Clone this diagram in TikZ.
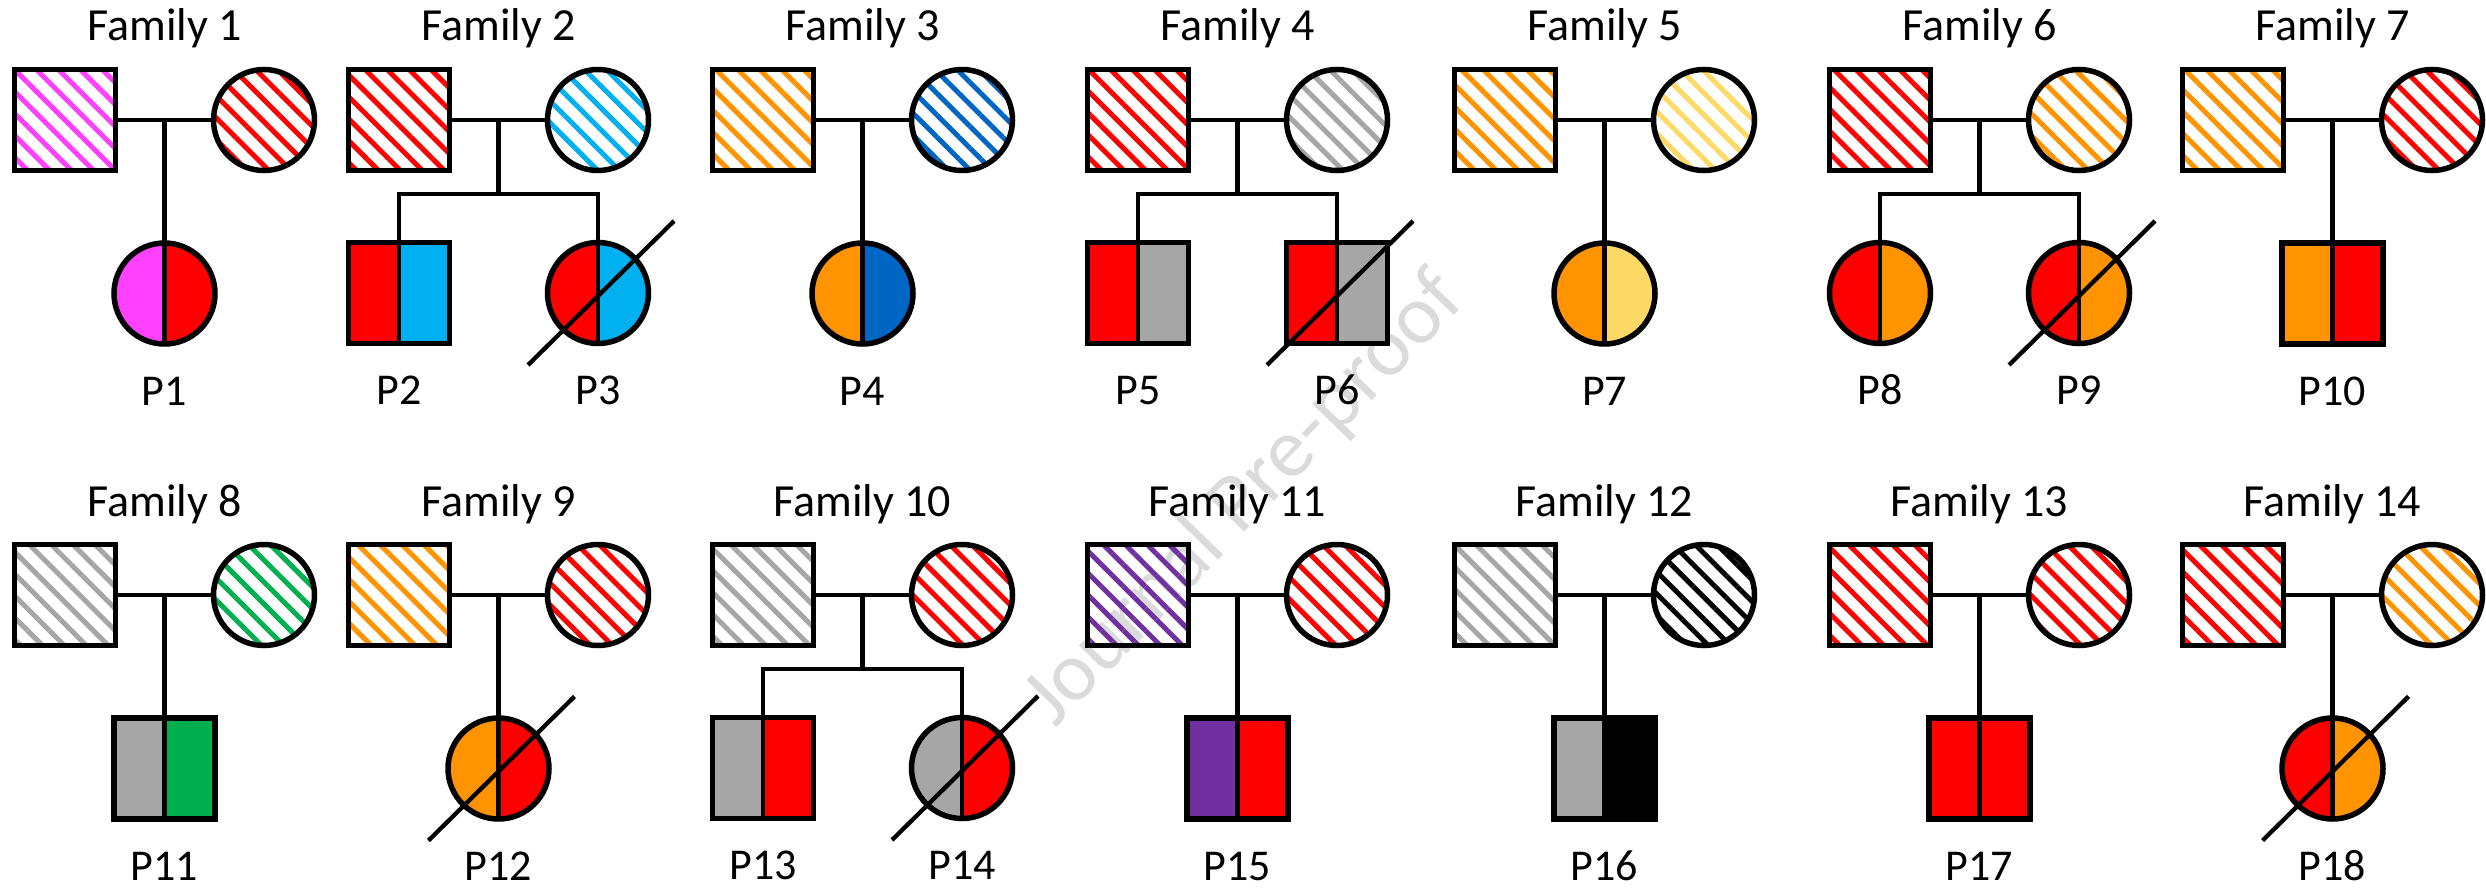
\documentclass[tikz,border=0pt]{standalone}
\usepackage{fontspec}
\setmainfont{Carlito}
\usetikzlibrary{positioning,calc,patterns.meta}
\definecolor{fpink}{HTML}{FF40FF}
\definecolor{fred}{HTML}{FF0000}
\definecolor{fsky}{HTML}{00B0F0}
\definecolor{fblue}{HTML}{0066C4}
\definecolor{forange}{HTML}{FF9300}
\definecolor{fgray}{HTML}{A6A6A6}
\definecolor{fyellow}{HTML}{FFD966}
\definecolor{fgreen}{HTML}{00B050}
\definecolor{fpurple}{HTML}{7030A0}
\definecolor{fblack}{HTML}{000000}

\begin{document}
\begin{tikzpicture}[x=1pt, y=-1pt,
      father/.style={draw, rectangle, minimum size=101pt, line width=5.5pt, outer sep=0pt,
                     pattern={Lines[angle=-45, distance=15.5pt, line width=5pt]}},
      mother/.style={father, circle},
      kid/.style={draw, minimum size=101pt, line width=5.5pt, outer sep=0pt},
      half/.style 2 args={path picture={
          \fill[fill=#1] (path picture bounding box.south west) rectangle (path picture bounding box.north);
          \fill[fill=#2] (path picture bounding box.north) rectangle (path picture bounding box.south east);
          \draw[line width=4.5pt] (path picture bounding box.north) -- (path picture bounding box.south);}},
      lig/.style={line width=4.3pt},
      titulo/.style={font=\fontsize{46}{55}\selectfont, inner sep=0pt, anchor=base},
      rotulo/.style={font=\fontsize{44}{53}\selectfont, inner sep=0pt, anchor=base}
    ]
    \useasboundingbox (0,0) rectangle (2486,888);
    \node[rotate=46, text=black!14, font=\fontsize{84}{90}\selectfont] (marca) at (1245,500) {Journal Pre-proof};

    \foreach \n/\x/\y/\a/\b/\s/\p in {1/65/120/fpink/fred/circle/1, 3/763/120/forange/fblue/circle/4,
        5/1505/120/forange/fyellow/circle/7, 7/2233/120/forange/fred/rectangle/10,
        8/65/595/fgray/fgreen/rectangle/11, 9/399/595/forange/fred/circle/12,
        11/1138/595/fpurple/fred/rectangle/15, 12/1505/595/fgray/fblack/rectangle/16,
        13/1880/595/fred/fred/rectangle/17, 14/2233/595/fred/forange/circle/18} {
      \node[father, pattern color=\a] (f\n) at (\x,\y) {};
      \node[mother, pattern color=\b, right=98pt of f\n] (m\n) {};
      \coordinate (c\n) at ($(f\n.east)!0.5!(m\n.west)$);
      \node[titulo] (t\n) at ([yshift=79pt]c\n) {Family \n};
      \node[kid, shape=\s, half={\a}{\b}, below=123pt of c\n] (p\p) {};
      \node[rotulo] (l\p) at ([yshift=-61pt]p\p.south) {P\p};
      \draw[lig] (f\n) -- (m\n);
      \draw[lig] (c\n) -- (p\p);
    }

    \foreach \n/\x/\y/\a/\b/\s/\p/\t/\q in {2/399/120/fred/fsky/rectangle/2/circle/3,
        4/1138/120/fred/fgray/rectangle/5/rectangle/6, 6/1880/120/fred/forange/circle/8/circle/9,
        10/763/595/fgray/fred/rectangle/13/circle/14} {
      \node[father, pattern color=\a] (f\n) at (\x,\y) {};
      \node[mother, pattern color=\b, right=98pt of f\n] (m\n) {};
      \coordinate (c\n) at ($(f\n.east)!0.5!(m\n.west)$);
      \coordinate (s\n) at ($(c\n)+(0,74)$);
      \node[titulo] (t\n) at ([yshift=79pt]c\n) {Family \n};
      \node[kid, shape=\s, half={\a}{\b}, below=72pt of f\n] (p\p) {};
      \node[kid, shape=\t, half={\a}{\b}, below=72pt of m\n] (p\q) {};
      \node[rotulo] (l\p) at ([yshift=-61pt]p\p.south) {P\p};
      \node[rotulo] (l\q) at ([yshift=-61pt]p\q.south) {P\q};
      \draw[lig] (f\n) -- (m\n);
      \draw[lig] (c\n) -- (s\n);
      \draw[lig] (p\p) |- (s\n) -| (p\q);
    }

    \foreach \p in {3,6,9,12,14,18}
      {\draw[lig] ($(p\p.center)+(-70,72)$) -- ($(p\p.center)+(76,-72)$);}
  \end{tikzpicture}
\end{document}
